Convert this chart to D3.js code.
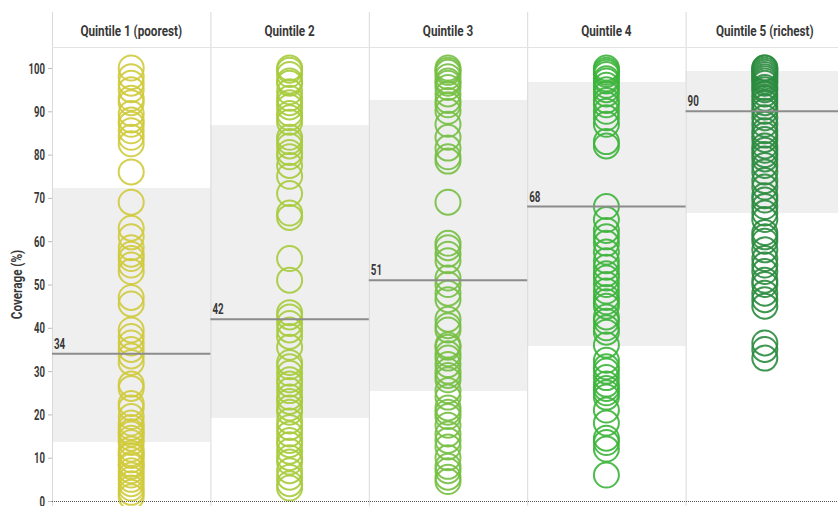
<!DOCTYPE html>
<html>
<head>
<meta charset="utf-8">
<script src="https://cdn.jsdelivr.net/npm/d3@7"></script>
<style>
  body { margin: 0; background: #fff; }
  svg text { font-family: Roboto, "DejaVu Sans", sans-serif; font-weight: bold; fill: #383838; }
</style>
</head>
<body>
<div id="chart"></div>
<script>
// quintile names
var quintiles = ["Quintile 1 (poorest)", "Quintile 2", "Quintile 3", "Quintile 4", "Quintile 5 (richest)"];

// coverage values (%) per quintile
var q1 = [100, 98, 96.5, 95, 93, 92, 89.5, 88, 87, 85.5, 84, 82.5, 76, 69, 63, 61, 58.5, 57, 56, 54.5, 53,
          47, 45.5, 39.5, 38, 36.5, 35, 33.5, 32, 27, 26, 22.5, 21.5, 19.5, 18, 17, 16, 15.5, 14.5, 13.5, 12,
          11, 10.5, 9.5, 8.5, 8, 7, 6, 5, 4, 3, 2, 1];
var q2 = [100, 99.5, 98.5, 97, 96.5, 94.5, 93, 92, 91, 89.5, 88.5, 87.5, 84, 83, 82, 80.5, 79.5, 77.5, 75, 71,
          66.5, 65.5, 56, 51, 43.5, 42.5, 41, 39.5, 38, 35.5, 32, 31, 29.5, 28, 27, 25.5, 24, 23, 21.5, 20.5,
          18.5, 17, 15.5, 14, 13, 11.5, 10, 9, 7, 5.5, 4, 3];
var q3 = [100, 99.5, 99, 98, 97, 96.5, 95.5, 94, 92.5, 91.5, 90, 87, 84, 81.5, 79.5, 78.5, 69, 59.5, 58.5, 57,
          55.5, 51.5, 50, 48, 46.5, 42, 40.5, 39.5, 36, 35.5, 34, 33, 31.5, 30, 29, 28, 25.5, 24, 21.5, 20.5,
          19.5, 17.5, 15.5, 14, 12.5, 10, 8, 7, 5.5, 4.5];
var q4 = [100, 99.5, 99, 98.5, 97.5, 97, 96, 95, 94, 92.5, 91.5, 90, 88.5, 87, 83, 82, 68, 65, 62.5, 61,
          59.5, 57.5, 55.5, 54, 52.5, 51.5, 50, 48.5, 47, 46, 45, 42.5, 41.5, 40, 39, 36, 32.5, 31, 30, 28.5,
          27, 26, 25, 24, 21, 18, 14.5, 13.5, 12, 6];
var q5 = [100, 100, 99.5, 99, 98.5, 98, 97.5, 97, 96.5, 95.5, 95, 94, 93, 92, 91, 90, 88.5, 87, 85.5, 84.5,
          83.5, 82, 81, 80, 79, 77.5, 76, 74, 72.5, 70.5, 69.5, 68, 66.5, 65, 62, 61, 60, 58, 56, 54.5,
          53, 51, 50, 48, 46.5, 45, 36.5, 35, 33];

// median line and interquartile band per quintile
var medians = [34, 42, 51, 68, 90];
var bandLow = [13.6, 19.2, 25.4, 35.8, 66.5];
var bandHigh = [72.3, 86.8, 92.6, 96.8, 99.3];

var colors = ["#cfca3b", "#a6cb3b", "#76bf43", "#3cb43b", "#2a8b3e"];
var yTicks = [0, 10, 20, 30, 40, 50, 60, 70, 80, 90, 100];

var series = [q1, q2, q3, q4, q5];

var width = 838, height = 506;
var margin = {top: 12, left: 52, header: 35};

var svg = d3.select("#chart").append("svg")
    .attr("width", width)
    .attr("height", height);

var x = d3.scaleBand()
    .domain(quintiles)
    .range([margin.left, margin.left + 158.4 * 5]);

var y = d3.scaleLinear()
    .domain([0, 100])
    .range([501, 68]);

// narrow the glyphs so they look like a condensed face
function place(px, py, k) {
    return "translate(" + px + "," + py + ") scale(" + k + ",1)";
}

// grey bands
svg.selectAll(".band")
    .data(quintiles)
    .enter().append("rect")
    .attr("x", d => x(d))
    .attr("width", x.bandwidth())
    .attr("y", (d, i) => y(bandHigh[i]))
    .attr("height", (d, i) => y(bandLow[i]) - y(bandHigh[i]))
    .attr("fill", "#efefef");

// column separators
svg.selectAll(".sep")
    .data(quintiles)
    .enter().append("line")
    .attr("x1", d => x(d) + 0.5)
    .attr("x2", d => x(d) + 0.5)
    .attr("y1", margin.top)
    .attr("y2", height)
    .attr("stroke", "#d9d9d9")
    .attr("stroke-width", 1);

// header line
svg.append("line")
    .attr("x1", margin.left)
    .attr("x2", width)
    .attr("y1", margin.top + margin.header + 0.5)
    .attr("y2", margin.top + margin.header + 0.5)
    .attr("stroke", "#e3e3e3");

// header labels
svg.selectAll(".head")
    .data(quintiles)
    .enter().append("text")
    .attr("transform", d => place(x(d) + x.bandwidth() / 2, 35.5, 0.78))
    .attr("text-anchor", "middle")
    .style("font-size", "15px")
    .text(d => d);

// y axis
var yAxis = d3.axisLeft(y).tickValues(yTicks).tickSize(4).tickPadding(3);
var ax = svg.append("g")
    .attr("transform", "translate(" + margin.left + ",0)")
    .call(yAxis);
ax.select(".domain").remove();
ax.selectAll(".tick line").attr("stroke", "#bbb");
ax.selectAll(".tick text")
    .attr("x", null)
    .attr("dy", null)
    .attr("transform", place(-7, 5, 0.68))
    .style("font-size", "14px")
    .attr("fill", "#444");

svg.append("text")
    .attr("transform", "translate(22," + y(50) + ") rotate(-90) scale(0.78,1)")
    .attr("text-anchor", "middle")
    .style("font-size", "15px")
    .text("Coverage (%)");

// circles
var cols = svg.selectAll(".col")
    .data(series)
    .enter().append("g")
    .attr("class", "col");

cols.selectAll("circle")
    .data((d, i) => d.map(v => ({v: v, i: i})))
    .enter().append("circle")
    .attr("cx", d => x(quintiles[d.i]) + x.bandwidth() / 2)
    .attr("cy", d => y(d.v))
    .attr("r", 12.5)
    .attr("fill", "none")
    .attr("stroke", d => colors[d.i])
    .attr("stroke-width", 2)
    .attr("stroke-opacity", 0.9);

// median lines + labels
svg.selectAll(".med")
    .data(medians)
    .enter().append("line")
    .attr("x1", (d, i) => x(quintiles[i]))
    .attr("x2", (d, i) => x(quintiles[i]) + x.bandwidth())
    .attr("y1", d => y(d))
    .attr("y2", d => y(d))
    .attr("stroke", "#8c8c8c")
    .attr("stroke-width", 2);

svg.selectAll(".medlabel")
    .data(medians)
    .enter().append("text")
    .attr("transform", (d, i) => place(x(quintiles[i]) + 2, y(d) - 5, 0.7))
    .style("font-size", "14px")
    .attr("fill", "#444")
    .text(d => d);

// zero line
svg.append("line")
    .attr("x1", margin.left)
    .attr("x2", width)
    .attr("y1", y(0) + 0.5)
    .attr("y2", y(0) + 0.5)
    .attr("stroke", "#555")
    .attr("stroke-dasharray", "1,1");
</script>
</body>
</html>
